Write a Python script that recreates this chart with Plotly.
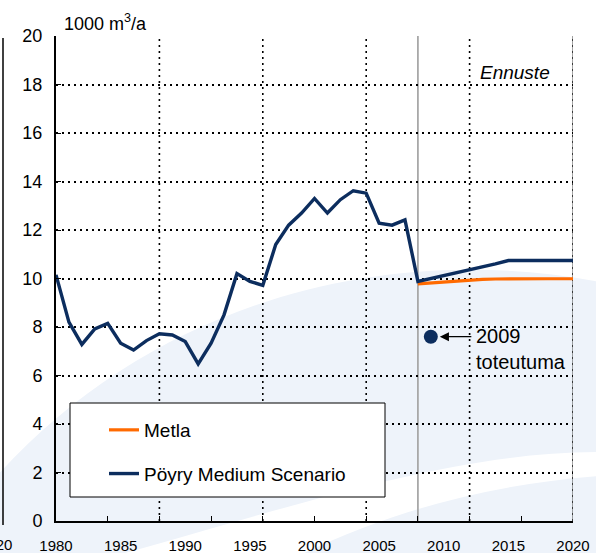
import plotly.graph_objects as go

# ---------------- data ----------------
poyry_years = list(range(1980, 2021))
poyry_values = [10.15, 8.2, 7.28, 7.92, 8.15, 7.33, 7.05, 7.44, 7.72, 7.67,
                7.4, 6.48, 7.33, 8.5, 10.2, 9.88, 9.72, 11.4, 12.2, 12.7,
                13.3, 12.7, 13.25, 13.62, 13.52, 12.28, 12.2, 12.42, 9.88, 10.0,
                10.12, 10.22, 10.34, 10.47, 10.6, 10.74, 10.74, 10.74, 10.74, 10.74,
                10.74]
metla_years = list(range(2008, 2021))
metla_values = [9.78, 9.82, 9.86, 9.9, 9.93, 9.96, 9.98, 9.99, 9.99, 9.99, 9.99, 9.99, 9.99]
actual_year = [2009]
actual_value = [7.6]
x_label_years = list(range(1980, 2021, 5))
x_minor_ticks = list(range(1984, 2020, 4))
x_grid_years = [1988, 1996, 2004, 2012]
forecast_start = 2008
y_ticks = list(range(0, 21, 2))

NAVY = "#0c2d5e"
ORANGE = "#ff6a00"
FONT = "Liberation Sans, Arial, sans-serif"

# plot-area pixel geometry (for decorations only)
W, H = 596, 553
PL, PR, PT, PB = 56, 573, 36, 521


def px(xp):
    return (xp - PL) / (PR - PL)


def py(yp):
    return (PB - yp) / (PB - PT)


def path(cmds):
    out = []
    for c in cmds:
        if isinstance(c, str):
            out.append(c)
        else:
            out.append(f"{px(c[0]):.4f},{py(c[1]):.4f}")
    return " ".join(out)


fig = go.Figure()

fig.add_trace(go.Scatter(x=metla_years, y=metla_values, mode="lines", name="Metla",
                         line=dict(color=ORANGE, width=3.2), legendgroup="a"))
fig.add_trace(go.Scatter(x=poyry_years, y=poyry_values, mode="lines",
                         name="Pöyry Medium Scenario",
                         line=dict(color=NAVY, width=3.4), legendgroup="b"))
fig.add_trace(go.Scatter(x=actual_year, y=actual_value, mode="markers", showlegend=False,
                         marker=dict(color=NAVY, size=14)))

shapes = []
# watermark swoosh
WM = "#eef3fa"
shapes.append(dict(type="path", xref="paper", yref="paper", layer="below",
                   fillcolor=WM, line=dict(width=0),
                   path=path(["M", (-5, 478), "C", (150, 305), (380, 240), (600, 282),
                              "L", (600, 452), "C", (450, 452), (300, 505), (100, 560),
                              "L", (-5, 560), "Z"])))
shapes.append(dict(type="path", xref="paper", yref="paper", layer="below",
                   fillcolor=WM, line=dict(width=0),
                   path=path(["M", (290, 560), "C", (380, 515), (480, 485), (600, 476),
                              "L", (600, 560), "Z"])))
# vertical dotted grid
for gx in x_grid_years + [2020]:
    shapes.append(dict(type="line", xref="x", yref="paper", x0=gx, x1=gx, y0=0, y1=1,
                       layer="between", line=dict(color="black", width=1.6, dash="2px,4px")))
shapes.append(dict(type="line", xref="x", yref="paper", x0=2020, x1=2020, y0=0, y1=1,
                   layer="between", line=dict(color="#444444", width=1)))
# forecast divider
shapes.append(dict(type="line", xref="x", yref="paper", x0=forecast_start, x1=forecast_start,
                   y0=0, y1=1, layer="between", line=dict(color="#a8a8a8", width=1.8)))
# legend box
shapes.append(dict(type="rect", xref="paper", yref="paper", layer="above",
                   x0=px(70), x1=px(385), y0=py(497), y1=py(403),
                   fillcolor="white", line=dict(color="black", width=1)))
# neighbouring chart's edge (cropped)
shapes.append(dict(type="line", xref="paper", yref="paper", x0=px(3), x1=px(3),
                   y0=py(525), y1=py(38), line=dict(color="black", width=1.5)))

annotations = [
    dict(text="1000 m<sup>3</sup>/a", xref="paper", yref="paper", x=px(62), y=py(22),
         xanchor="left", yanchor="middle", showarrow=False,
         font=dict(family=FONT, size=18, color="black")),
    dict(text="<i>Ennuste</i>", xref="paper", yref="paper", x=px(515), y=py(73),
         xanchor="center", yanchor="middle", showarrow=False,
         font=dict(family=FONT, size=19, color="black")),
    dict(text="", x=actual_year[0], y=actual_value[0], xref="x", yref="y",
         showarrow=True, ax=42, ay=0, arrowhead=2, arrowsize=1.4, arrowwidth=1.3,
         arrowcolor="black", standoff=9),
    dict(text="2009<br>toteutuma", x=actual_year[0], y=actual_value[0], xref="x", yref="y",
         xanchor="left", yanchor="middle", align="left", xshift=43, yshift=-12,
         showarrow=False, font=dict(family=FONT, size=20, color="black")),
    dict(text="2020", xref="paper", yref="paper", x=px(14), y=py(544),
         xanchor="right", yanchor="middle", showarrow=False,
         font=dict(family=FONT, size=15, color="black")),
]

fig.update_layout(
    width=W, height=H,
    margin=dict(l=PL, r=W - PR, t=PT, b=H - PB, autoexpand=False),
    paper_bgcolor="white", plot_bgcolor="rgba(0,0,0,0)",
    font=dict(family=FONT, color="black"),
    shapes=shapes, annotations=annotations,
    showlegend=True,
    legend=dict(x=px(104), y=py(411), xanchor="left", yanchor="top",
                bgcolor="rgba(0,0,0,0)", borderwidth=0,
                font=dict(family=FONT, size=19, color="black"),
                traceorder="grouped", tracegroupgap=16),
    xaxis=dict(range=[1980, 2020], tickmode="array", tickvals=x_label_years,
               ticks="", showgrid=False, zeroline=False, automargin=False,
               showline=True, linecolor="black", linewidth=2,
               tickfont=dict(family=FONT, size=15, color="black"),
               ticklabelstandoff=10, ticklabeloverflow="allow",
               minor=dict(tickmode="array", tickvals=x_minor_ticks, ticks="inside",
                          ticklen=5, tickcolor="black", tickwidth=1, showgrid=False)),
    yaxis=dict(range=[0, 20], tickmode="array", tickvals=y_ticks,
               ticks="inside", ticklen=5, tickcolor="black", tickwidth=1,
               showgrid=True, gridcolor="black", gridwidth=1.6, griddash="2px,4px",
               zeroline=False, showline=True, linecolor="black", linewidth=2,
               automargin=False,
               tickfont=dict(family=FONT, size=18, color="black"),
               ticklabelstandoff=8),
)

fig.write_html("out.html", config={"displayModeBar": False},
               post_script="document.body.style.margin='0px';document.body.style.overflow='hidden';")
